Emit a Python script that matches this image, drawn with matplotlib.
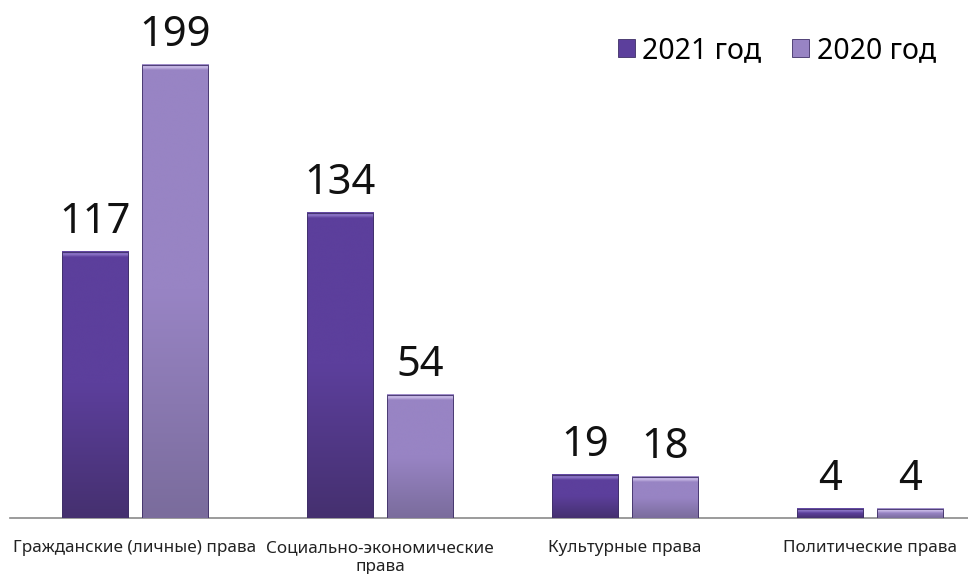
import matplotlib
matplotlib.use("Agg")
import matplotlib.pyplot as plt
import numpy as np
from matplotlib.colors import LinearSegmentedColormap

categories = ["Гражданские (личные) права", "Социально-экономические\nправа",
              "Культурные права", "Политические права"]
series_names = ["2021 год", "2020 год"]
values_2021 = [117, 134, 19, 4]
values_2020 = [199, 54, 18, 4]

plt.rcParams['font.family'] = ['Noto Sans', 'DejaVu Sans']

fig = plt.figure(figsize=(9.68, 5.74), dpi=100)
ax = fig.add_axes([10/968, 56/574, 958/968, 518/574])
ax.set_xlim(-0.5102, 3.4)
ax.set_ylim(0, 227.6)

x = np.arange(len(categories))
w = 0.27
off = 0.163
base_cols = ["#5c3f9c", "#9884c4"]
dark_cols = ["#45306f", "#7a6c9c"]
light_cols = ["#8e78c8", "#cbbde8"]

for vals, o, bc, dc, lc, name in zip([values_2021, values_2020], [-off, off],
                                     base_cols, dark_cols, light_cols, series_names):
    bars = ax.bar(x + o, vals, width=w, color=bc, edgecolor="#3e2f66",
                  linewidth=0.6, label=name, zorder=2)
    cmap = LinearSegmentedColormap.from_list("g", [dc, bc, bc])
    for b, v in zip(bars, vals):
        x0 = b.get_x(); x1 = x0 + b.get_width()
        grad = np.linspace(0, 1, 256).reshape(-1, 1)
        ax.imshow(grad, extent=[x0, x1, 0, v], origin="lower", aspect="auto",
                  cmap=cmap, zorder=3, interpolation="bicubic")
        # top bevel
        bev = min(2.2, v * 0.5)
        bcmap = LinearSegmentedColormap.from_list("b", [bc, lc, bc])
        ax.imshow(np.linspace(0, 1, 64).reshape(-1, 1), extent=[x0, x1, v - bev, v],
                  origin="lower", aspect="auto", cmap=bcmap, zorder=4)
        ax.add_patch(plt.Rectangle((x0, 0), x1 - x0, v, fill=False,
                                   edgecolor="#3e2f66", linewidth=0.6, zorder=5))
        ax.text(b.get_x() + b.get_width() / 2, v + 4, str(v), ha="center",
                va="bottom", fontsize=30, color="#111111", zorder=6)

ax.set_xticks(x)
ax.set_xticklabels(categories, fontsize=12.3, color="#222222", linespacing=1.25)
ax.tick_params(axis="x", length=0, pad=16)
ax.set_yticks([])
for s in ["left", "right", "top"]:
    ax.spines[s].set_visible(False)
ax.spines["bottom"].set_color("#8a8a8a")
ax.spines["bottom"].set_linewidth(1.2)

leg = ax.legend(loc="upper right", bbox_to_anchor=(0.993, 0.98), ncol=2, frameon=False,
                fontsize=20.5, handlelength=0.6, handleheight=0.6, handletextpad=0.25,
                columnspacing=1.1)

fig.savefig("out.png", dpi=100, facecolor="white")
